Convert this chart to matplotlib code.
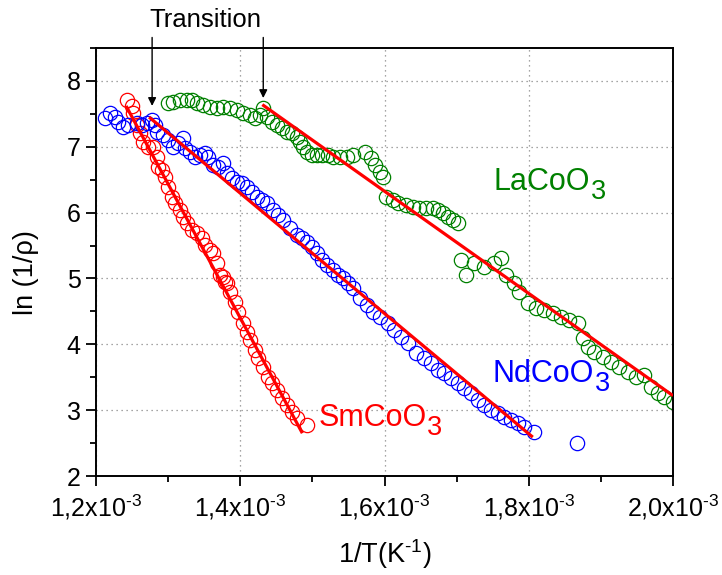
import matplotlib
matplotlib.use("Agg")
import matplotlib.pyplot as plt
from matplotlib.ticker import MultipleLocator, FixedLocator

plt.rcParams['font.family'] = ['Liberation Sans', 'DejaVu Sans']
plt.rcParams['mathtext.fontset'] = 'custom'
plt.rcParams['mathtext.rm'] = 'Liberation Sans'
plt.rcParams['mathtext.it'] = 'Liberation Sans:italic'
plt.rcParams['mathtext.bf'] = 'Liberation Sans:bold'

# ---- data (x in units of 1e-3 K^-1) ----
sm_x = [1.2426, 1.2496, 1.2514, 1.2565, 1.2611, 1.2653, 1.2722, 1.2792, 1.2847, 1.2861,
        1.2917, 1.2958, 1.3000, 1.3056, 1.3097, 1.3167, 1.3208, 1.3264, 1.3333, 1.3403,
        1.3472, 1.3514, 1.3583, 1.3625, 1.3681, 1.3722, 1.3764, 1.3792, 1.3819, 1.3861,
        1.3931, 1.3972, 1.4042, 1.4097, 1.4139, 1.4208, 1.4250, 1.4319, 1.4389, 1.4444,
        1.4514, 1.4583, 1.4653, 1.4722, 1.4792, 1.4931]
sm_y = [7.711, 7.620, 7.514, 7.331, 7.210, 7.073, 6.997, 6.997, 6.845, 6.693,
        6.647, 6.541, 6.389, 6.237, 6.146, 6.040, 5.933, 5.842, 5.736, 5.690,
        5.614, 5.508, 5.432, 5.386, 5.234, 5.052, 5.021, 4.945, 4.930, 4.793,
        4.641, 4.489, 4.322, 4.185, 4.064, 3.912, 3.790, 3.653, 3.502, 3.410,
        3.304, 3.182, 3.076, 2.970, 2.878, 2.772]

nd_x = [1.2125, 1.2194, 1.2264, 1.2306, 1.2375, 1.2444, 1.2569, 1.2639, 1.2708, 1.2778,
        1.2819, 1.2847, 1.2931, 1.3000, 1.3069, 1.3139, 1.3208, 1.3236, 1.3306, 1.3375,
        1.3444, 1.3514, 1.3556, 1.3625, 1.3694, 1.3764, 1.3819, 1.3889, 1.3958, 1.4028,
        1.4097, 1.4167, 1.4236, 1.4306, 1.4375, 1.4458, 1.4528, 1.4597, 1.4694, 1.4792,
        1.4861, 1.4931, 1.5000, 1.5069, 1.5139, 1.5208, 1.5292, 1.5361, 1.5431, 1.5500,
        1.5569, 1.5667, 1.5764, 1.5847, 1.5944, 1.6042, 1.6125, 1.6222, 1.6319, 1.6431,
        1.6542, 1.6639, 1.6736, 1.6819, 1.6917, 1.7014, 1.7097, 1.7194, 1.7292, 1.7375,
        1.7472, 1.7569, 1.7653, 1.7750, 1.7847, 1.7931, 1.8069, 1.8667]
nd_y = [7.438, 7.514, 7.453, 7.377, 7.301, 7.331, 7.362, 7.331, 7.362, 7.407,
        7.331, 7.225, 7.179, 7.103, 6.997, 7.058, 7.134, 6.982, 6.921, 6.845,
        6.875, 6.906, 6.845, 6.723, 6.693, 6.754, 6.602, 6.526, 6.465, 6.450,
        6.389, 6.313, 6.237, 6.191, 6.146, 6.040, 5.964, 5.888, 5.766, 5.660,
        5.614, 5.553, 5.477, 5.386, 5.280, 5.204, 5.128, 5.052, 5.006, 4.930,
        4.854, 4.702, 4.596, 4.489, 4.413, 4.322, 4.216, 4.109, 4.018, 3.866,
        3.790, 3.714, 3.608, 3.562, 3.486, 3.410, 3.334, 3.258, 3.152, 3.076,
        3.000, 2.954, 2.894, 2.848, 2.802, 2.742, 2.666, 2.498]

la_x = [1.3000, 1.3069, 1.3167, 1.3264, 1.3333, 1.3403, 1.3486, 1.3583, 1.3681, 1.3764,
        1.3861, 1.3958, 1.4042, 1.4139, 1.4208, 1.4278, 1.4319, 1.4375, 1.4444, 1.4514,
        1.4583, 1.4653, 1.4722, 1.4792, 1.4833, 1.4875, 1.4931, 1.5000, 1.5069, 1.5139,
        1.5222, 1.5292, 1.5389, 1.5486, 1.5569, 1.5736, 1.5806, 1.5875, 1.5944, 1.5986,
        1.6014, 1.6111, 1.6194, 1.6292, 1.6389, 1.6472, 1.6569, 1.6667, 1.6736, 1.6806,
        1.6875, 1.6944, 1.7014, 1.7056, 1.7125, 1.7236, 1.7375, 1.7514, 1.7611, 1.7681,
        1.7792, 1.7861, 1.7986, 1.8097, 1.8208, 1.8333, 1.8444, 1.8556, 1.8681, 1.8750,
        1.8819, 1.8903, 1.9028, 1.9139, 1.9250, 1.9375, 1.9486, 1.9597, 1.9694, 1.9792,
        1.9875, 2.0000]
la_y = [7.666, 7.681, 7.711, 7.711, 7.711, 7.666, 7.635, 7.605, 7.590, 7.605,
        7.590, 7.559, 7.514, 7.483, 7.438, 7.483, 7.590, 7.453, 7.377, 7.331,
        7.286, 7.225, 7.210, 7.149, 7.073, 6.997, 6.921, 6.875, 6.875, 6.875,
        6.875, 6.845, 6.845, 6.845, 6.875, 6.921, 6.830, 6.723, 6.617, 6.541,
        6.237, 6.191, 6.146, 6.116, 6.085, 6.070, 6.070, 6.070, 6.040, 5.994,
        5.933, 5.888, 5.842, 5.280, 5.052, 5.234, 5.173, 5.234, 5.310, 5.052,
        4.930, 4.793, 4.626, 4.550, 4.520, 4.474, 4.413, 4.368, 4.322, 4.094,
        3.957, 3.881, 3.805, 3.730, 3.654, 3.578, 3.502, 3.532, 3.350, 3.258,
        3.198, 3.122]

# linear fits (end points)
sm_fit_x = [1.2417, 1.4861]
sm_fit_y = [7.62, 2.65]
nd_fit_x = [1.2736, 1.8056]
nd_fit_y = [7.45, 2.59]
la_fit_x = [1.4306, 2.0000]
la_fit_y = [7.64, 3.22]

xticks = [1.2, 1.4, 1.6, 1.8, 2.0]
xtick_labels = ["1,2x10$^{\u2010 3}$", "1,4x10$^{\u2010 3}$", "1,6x10$^{\u2010 3}$",
                "1,8x10$^{\u2010 3}$", "2,0x10$^{\u2010 3}$"]
yticks = [2, 3, 4, 5, 6, 7, 8]

# ---- figure ----
fig = plt.figure(figsize=(7.22, 5.75), dpi=100)
ax = fig.add_axes([96/722, 1-476/575, (673-96)/722, (476-48)/575])

mk = dict(marker='o', linestyle='none', markerfacecolor='none',
          markersize=10.3, markeredgewidth=0.9)
ax.plot(sm_x, sm_y, markeredgecolor='#ff0000', **mk)
ax.plot(nd_x, nd_y, markeredgecolor='#0000ff', **mk)
ax.plot(la_x, la_y, markeredgecolor='#008000', **mk)

for fx, fy in [(sm_fit_x, sm_fit_y), (nd_fit_x, nd_fit_y), (la_fit_x, la_fit_y)]:
    ax.plot(fx, fy, color='#ff0000', lw=2.3, solid_capstyle='butt', zorder=3)

ax.set_xlim(1.2, 2.0)
ax.set_ylim(2, 8.5)
ax.xaxis.set_major_locator(FixedLocator(xticks))
ax.set_xticklabels(xtick_labels)
ax.xaxis.set_minor_locator(MultipleLocator(0.1))
ax.yaxis.set_major_locator(FixedLocator(yticks))
ax.yaxis.set_minor_locator(MultipleLocator(0.5))

ax.grid(True, which='major', linestyle=(0, (1, 3)), color='#888888', lw=0.9)
ax.set_axisbelow(True)

for s in ax.spines.values():
    s.set_linewidth(1.4)
ax.tick_params(which='both', direction='out', top=False, right=False, width=1.3)
ax.tick_params(axis='y', which='major', length=7, labelsize=18, pad=4)
ax.tick_params(axis='x', which='major', length=7, labelsize=18, pad=5)
ax.tick_params(which='minor', length=4)

ax.set_xlabel("1/T(K$^{\u2010 1}$)", fontsize=19.5)
ax.xaxis.set_label_coords(0.5, -0.143)
ax.set_ylabel("ln (1/\u03c1)", fontsize=19.5)
ax.yaxis.set_label_coords(-0.098, 0.475)


def chem(x, y, main, sub, color):
    t = ax.text(x, y, main, color=color, fontsize=22, ha='left', va='baseline')
    ax.annotate(sub, xy=(1, 0), xycoords=t, xytext=(0.5, -1.5), textcoords='offset points',
                color=color, fontsize=19.5, ha='left', va='baseline')


chem(1.5083, 2.757, "SmCoO", "3", '#ff0000')
chem(1.750, 3.425, "NdCoO", "3", '#0000ff')
chem(1.7514, 6.343, "LaCoO", "3", '#008000')

ax.text(1.3514, 8.93, "Transition", fontsize=18.5, ha='center', va='center', clip_on=False)
ap = dict(arrowstyle='-|>', color='k', lw=1.0, mutation_scale=12, shrinkA=0, shrinkB=0)
ax.annotate("", xy=(1.2778, 7.62), xytext=(1.2778, 8.66), arrowprops=ap, annotation_clip=False)
ax.annotate("", xy=(1.4319, 7.74), xytext=(1.4319, 8.66), arrowprops=ap, annotation_clip=False)

fig.savefig("out.png", dpi=100)
